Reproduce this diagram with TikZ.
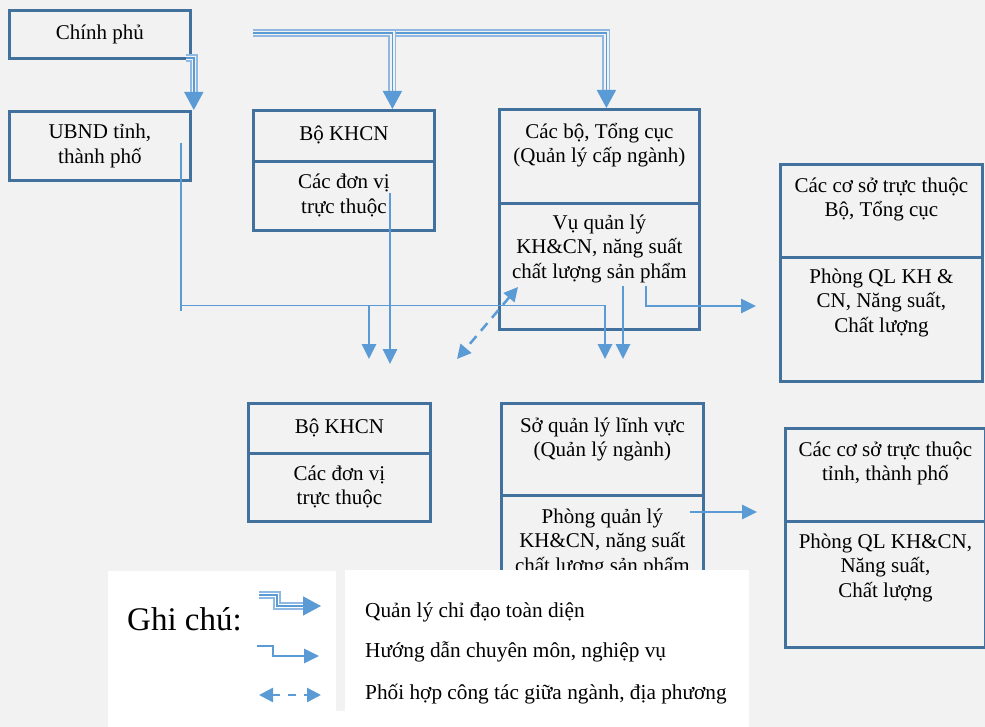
\documentclass[tikz,border=0pt]{standalone}
\usepackage{fontspec}
\setmainfont{Liberation Serif}
\usetikzlibrary{arrows.meta}
\definecolor{bg}{HTML}{F2F2F2}
\definecolor{boxc}{HTML}{41719C}
\definecolor{arr}{HTML}{5B9BD5}
\definecolor{arrlt}{HTML}{8FB9E2}
\newcommand\bodyfont{\fontsize{21}{24.5}\selectfont}
\newcommand\notefont{\fontsize{21.3}{24}\selectfont}
\begin{document}
\begin{tikzpicture}[x=1pt,y=-1pt,
  box/.style={draw=boxc, line width=2.8pt, fill=bg, rectangle, inner sep=0pt,
    anchor=north west, align=center, font=\bodyfont},
  txt/.style={anchor=north, inner sep=0pt, align=center, font=\bodyfont},
  tri/.style={draw=arr, line width=1.7pt,
    -{Triangle[length=18pt,width=19pt]},
    preaction={draw=arrlt, line width=8pt, -, shorten >=16pt},
    preaction={draw=#1, line width=4.3pt, -, shorten >=16pt}},
  tri/.default=bg,
  guide/.style={draw=arr, line width=1.8pt, -{Triangle[length=15pt,width=14.5pt]}},
  guideline/.style={draw=arr, line width=1.5pt},
  coop/.style={draw=arr, line width=2.5pt, dash pattern=on 10pt off 7pt,
    {Triangle[length=14pt,width=14pt]}-{Triangle[length=14pt,width=14pt]}},
  note/.style={anchor=base west, inner sep=0pt, font=\notefont}
]
% page background
\fill[bg] (0,0) rectangle (985,727);
\useasboundingbox (0,0) rectangle (985,727);

% ---- central level ----
\node[box, minimum width=181pt, minimum height=48pt] (cp) at (8,9) {\strut Chính phủ};
\node[box, minimum width=181pt, minimum height=69pt] (ubnd) at (8,110) {\strut UBND tỉnh,\\\strut thành phố};

\node[box, minimum width=181pt, minimum height=51pt] (bkT) at (252,109) {\strut Bộ KHCN};
\node[box, minimum width=181pt, minimum height=69pt] (bkB) at (252,160) {\strut Các đơn vị\\\strut trực thuộc};

\node[box, minimum width=200pt, minimum height=94pt] (cbT) at (498,108) {};
\node[box, minimum width=200pt, minimum height=126pt] (cbB) at (498,202) {};
\node[txt] (cbTt) at ([yshift=-13pt]cbT.north) {\strut Các bộ, Tổng cục\\(Quản lý cấp ngành)};
\node[txt] (cbBt) at ([yshift=-10pt]cbB.north) {\strut Vụ quản lý\\KH\&CN, năng suất\\chất lượng sản phẩm};

\node[box, minimum width=202pt, minimum height=93pt] (r1T) at (779,163) {};
\node[box, minimum width=202pt, minimum height=124pt] (r1B) at (779,256) {};
\node[txt] (r1Tt) at ([yshift=-12pt]r1T.north) {\strut Các cơ sở trực thuộc\\Bộ, Tổng cục};
\node[txt] (r1Bt) at ([yshift=-10pt]r1B.north) {\strut Phòng QL KH \&\\CN, Năng suất,\\Chất lượng};

% ---- local level ----
\node[box, minimum width=182pt, minimum height=50pt] (bk2T) at (247,402) {\strut Bộ KHCN};
\node[box, minimum width=182pt, minimum height=68pt] (bk2B) at (247,452) {\strut Các đơn vị\\\strut trực thuộc};

\node[box, minimum width=202pt, minimum height=92pt] (soT) at (500,402) {};
\node[box, minimum width=202pt, minimum height=140pt] (soB) at (500,494) {};
\node[txt] (soTt) at ([yshift=-13pt]soT.north) {\strut Sở quản lý lĩnh vực\\(Quản lý ngành)};
\node[txt] (soBt) at ([yshift=-12pt]soB.north) {\strut Phòng quản lý\\KH\&CN, năng suất\\chất lượng sản phẩm};

\node[box, minimum width=200pt, minimum height=93pt] (r2T) at (784,427) {};
\node[box, minimum width=200pt, minimum height=126pt] (r2B) at (784,520) {};
\node[txt] (r2Tt) at ([yshift=-12pt]r2T.north) {\strut Các cơ sở trực thuộc\\tỉnh, thành phố};
\node[txt] (r2Bt) at ([yshift=-11pt]r2B.north) {\strut Phòng QL KH\&CN,\\Năng suất,\\Chất lượng};

% ---- overall direction (triple lines) ----
\coordinate (src) at (253,33);
\draw[tri] (src) -| ([xshift=7pt]cbT.north);
\draw[tri] (src) -| ([xshift=48.5pt]bkT.north);
\draw[tri] ([xshift=-6pt,yshift=2pt]cp.south east) -| ([xshift=2pt]ubnd.north east);

% ---- professional guidance (single lines) ----
\coordinate (u1) at (181,143);
\coordinate (u2) at (181,311);
\coordinate (hb) at (181,305.5);
\coordinate (e1) at (605,359);
\coordinate (e2) at (369,359);
\coordinate (d1) at (390,193);
\coordinate (e3) at (390,364);
\coordinate (v1) at (623,286);
\coordinate (e4) at (623,359);
\coordinate (v2) at (646,286);
\coordinate (e5) at (756,306);
\coordinate (s1) at (690,512);
\coordinate (e6) at (757,512);
\draw[guideline] (u1) -- (u2);
\draw[guide] (hb) -| (e1);
\draw[guide] (hb -| e2) -- (e2);
\draw[guide] (d1) -- (e3);
\draw[guide] (v1) -- (e4);
\draw[guide] (v2) |- (e5);
\draw[guide] (s1) -- (e6);

% ---- coordination between sectors and localities ----
\coordinate (p1) at (518,287);
\coordinate (p2) at (457,359);
\draw[coop] (p1) -- (p2);

% ---- legend ----
\fill[white] (108,571) rectangle (749,727);
\fill[white] (345,570) rectangle (749,571);
\fill[bg] (336,571) rectangle (345,711);
\node[anchor=base west, inner sep=0pt, font=\fontsize{33}{36}\selectfont] (lgtitle) at (127,630) {Ghi chú:};

\coordinate (lg1a) at (259,595);
\coordinate (lg1b) at (321,606);
\draw[tri=white] (lg1a) -- ++(18,0) |- (lg1b);
\coordinate (lg2a) at (257,646);
\coordinate (lg2b) at (319,656);
\draw[guide, line width=1.6pt] (lg2a) -- ++(16,0) |- (lg2b);
\coordinate (lg3a) at (259,695);
\coordinate (lg3b) at (321,695);
\draw[coop, line width=2.5pt, dash pattern=on 8pt off 8pt] (lg3a) -- (lg3b);

\node[note] (n1) at (365,617) {Quản lý chỉ đạo toàn diện};
\node[note] (n2) at (365,657) {Hướng dẫn chuyên môn, nghiệp vụ};
\node[note] (n3) at (365,699) {Phối hợp công tác giữa ngành, địa phương};
\end{tikzpicture}
\end{document}
